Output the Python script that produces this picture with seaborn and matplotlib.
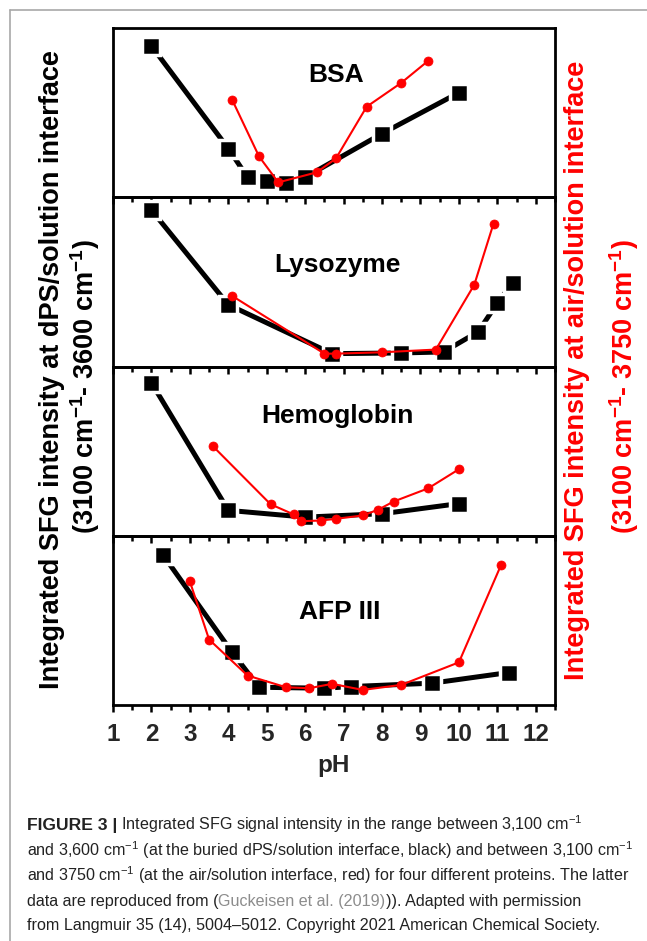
import matplotlib
matplotlib.use("Agg")
import matplotlib.pyplot as plt
import seaborn as sns
from matplotlib.lines import Line2D
from matplotlib.ticker import MultipleLocator
from matplotlib import font_manager

# ==========================================
# DATA (arbitrary units 0-100 per panel)
# ==========================================
panel_names = ["BSA", "Lysozyme", "Hemoglobin", "AFP III"]

# black = buried dPS/solution interface, red = air/solution interface
bsa_ph_dps = [2.0, 4.0, 4.5, 5.0, 5.5, 6.0, 8.0, 10.0]
bsa_dps = [89.4, 28.8, 11.8, 9.4, 8.2, 11.8, 37.6, 61.8]
bsa_ph_air = [4.1, 4.8, 5.3, 6.3, 6.8, 7.6, 8.5, 9.2]
bsa_air = [57.6, 24.1, 8.8, 14.7, 22.9, 53.5, 67.6, 80.6]

lys_ph_dps = [2.0, 4.0, 6.7, 8.5, 9.6, 10.5, 11.0, 11.4]
lys_dps = [92.4, 36.5, 7.6, 8.0, 8.6, 20.5, 37.5, 49.5]
lys_ph_air = [4.1, 6.5, 6.8, 8.0, 9.4, 10.4, 10.9]
lys_air = [41.7, 7.6, 7.6, 8.4, 10.0, 48.3, 84.4]

hem_ph_dps = [2.0, 4.0, 6.0, 8.0, 10.0]
hem_dps = [90.4, 15.0, 11.0, 13.0, 19.0]
hem_ph_air = [3.6, 5.1, 5.7, 5.9, 6.4, 6.8, 7.5, 7.9, 8.3, 9.2, 10.0]
hem_air = [52.9, 18.6, 12.6, 8.6, 9.0, 10.0, 12.0, 15.4, 20.2, 28.0, 39.3]

afp_ph_dps = [2.3, 4.1, 4.8, 6.5, 7.2, 9.3, 11.3]
afp_dps = [88.7, 31.1, 10.5, 9.9, 10.9, 12.9, 19.2]
afp_ph_air = [3.0, 3.5, 4.5, 5.5, 6.1, 6.7, 7.5, 8.5, 10.0, 11.1]
afp_air = [73.0, 38.7, 17.4, 10.5, 9.9, 12.5, 8.9, 11.9, 25.2, 82.9]

ph_ticks = list(range(1, 13))

series = [
    (bsa_ph_dps, bsa_dps, bsa_ph_air, bsa_air),
    (lys_ph_dps, lys_dps, lys_ph_air, lys_air),
    (hem_ph_dps, hem_dps, hem_ph_air, hem_air),
    (afp_ph_dps, afp_dps, afp_ph_air, afp_air),
]
label_pos = [(6.8, 0.72), (6.85, 0.60), (6.85, 0.71), (6.9, 0.55)]

caption_lines = [
    " Integrated SFG signal intensity in the range between 3,100 cm$^{-1}$",
    "and 3,600 cm$^{-1}$ (at the buried dPS/solution interface, black) and between 3,100 cm$^{-1}$",
    "and 3750 cm$^{-1}$ (at the air/solution interface, red) for four different proteins. The latter",
    "data are reproduced from (",
    "from Langmuir 35 (14), 5004\u20135012. Copyright 2021 American Chemical Society.",
]

# ==========================================
# STYLE
# ==========================================
sns.set_theme(style="white")
plt.rcParams['font.family'] = ['Liberation Sans', 'DejaVu Sans']
plt.rcParams['mathtext.default'] = 'regular'

installed = {f.name for f in font_manager.fontManager.ttflist}
if 'Liberation Sans Narrow' in installed:
    cap_family = ['Liberation Sans Narrow', 'DejaVu Sans']
    cap_size, fig_size = 13, 13
else:
    cap_family = ['Liberation Sans', 'DejaVu Sans']
    cap_size, fig_size = 11.6, 12.6

W, H = 647, 941
fig, axes = plt.subplots(4, 1, figsize=(W / 100, H / 100), dpi=100, sharex=True,
                         gridspec_kw=dict(hspace=0))
fig.subplots_adjust(left=113 / W, right=555 / W, top=1 - 28 / H, bottom=1 - 705 / H)

for i, ax in enumerate(axes):
    ph_d, v_d, ph_a, v_a = series[i]
    ax.set_facecolor('none')
    sns.lineplot(x=ph_d, y=v_d, ax=ax, color='black', linewidth=3.6, marker='s',
                 markersize=13, markeredgecolor='white', markeredgewidth=2.5,
                 estimator=None, sort=False, zorder=3)
    sns.lineplot(x=ph_a, y=v_a, ax=ax, color='#ff0000', linewidth=1.5, marker='o',
                 markersize=6.5, markeredgecolor='#ff0000', markeredgewidth=0.5,
                 estimator=None, sort=False, zorder=4)
    ax.text(label_pos[i][0], label_pos[i][1], panel_names[i], transform=ax.get_xaxis_transform(),
            ha='center', va='center', fontsize=19, fontweight='bold', color='black')
    ax.set_xlim(1, 12.5)
    ax.set_ylim(0, 100)
    ax.set_yticks([])
    ax.set_ylabel('')
    for s in ax.spines.values():
        s.set_linewidth(2)
        s.set_color('black')
        s.set_visible(True)
    ax.xaxis.set_major_locator(MultipleLocator(1))
    ax.xaxis.set_minor_locator(MultipleLocator(0.5))
    ax.tick_params(axis='x', which='both', bottom=True, top=False, direction='out',
                   width=1.8, color='black', labelbottom=(i == 3))
    ax.tick_params(axis='x', which='major', length=5, pad=8, labelsize=17.5)
    ax.tick_params(axis='x', which='minor', length=3.5)

axes[-1].set_xticks(ph_ticks)
for lab in axes[-1].get_xticklabels():
    lab.set_fontweight('bold')
axes[-1].set_xlabel('pH', fontsize=17.5, fontweight='bold', labelpad=6)

# y labels (span all four panels)
y1 = 1 - 370 / H
y2 = 1 - 387 / H
lab_size = 19.5
fig.text(52 / W, y1, 'Integrated SFG intensity at dPS/solution interface', rotation=90,
         ha='center', va='center', fontsize=lab_size, fontweight='bold', color='black')
fig.text(85 / W, y2, '(3100 cm$^{-1}$- 3600 cm$^{-1}$)', rotation=90,
         ha='center', va='center', fontsize=lab_size, fontweight='bold', color='black')
fig.text(577 / W, y1, 'Integrated SFG intensity at air/solution interface', rotation=90,
         ha='center', va='center', fontsize=lab_size, fontweight='bold', color='#ff0000')
fig.text(624 / W, y2, '(3100 cm$^{-1}$- 3750 cm$^{-1}$)', rotation=90,
         ha='center', va='center', fontsize=lab_size, fontweight='bold', color='#ff0000')

# page frame lines
fig.add_artist(Line2D([10 / W, 10 / W], [0, 1 - 10 / H], transform=fig.transFigure,
                      color='#a8a8a8', linewidth=1.2))
fig.add_artist(Line2D([10 / W, 1], [1 - 10 / H, 1 - 10 / H], transform=fig.transFigure,
                      color='#a8a8a8', linewidth=1.2))

# caption
x0 = 27 / W
base_y = [830, 856, 881, 906, 930]
renderer = fig.canvas.get_renderer()


def place(x, y, s, size=None, **kw):
    t = fig.text(x, 1 - y / H, s, ha='left', va='baseline', family=cap_family,
                 fontsize=size or cap_size, color='#222222', **kw)
    bb = t.get_window_extent(renderer)
    return bb.x1 / W


xe = place(x0, base_y[0], 'FIGURE 3 |', size=fig_size, fontweight='bold')
place(xe, base_y[0], caption_lines[0])
place(x0, base_y[1], caption_lines[1])
place(x0, base_y[2], caption_lines[2])
xe = place(x0, base_y[3], caption_lines[3])
xe = place(xe, base_y[3], 'Guckeisen et al. (2019)')
fig.texts[-1].set_color('#8c8c8c')
place(xe, base_y[3], ')). Adapted with permission')
place(x0, base_y[4], caption_lines[4])

fig.savefig('out.png', dpi=100)
